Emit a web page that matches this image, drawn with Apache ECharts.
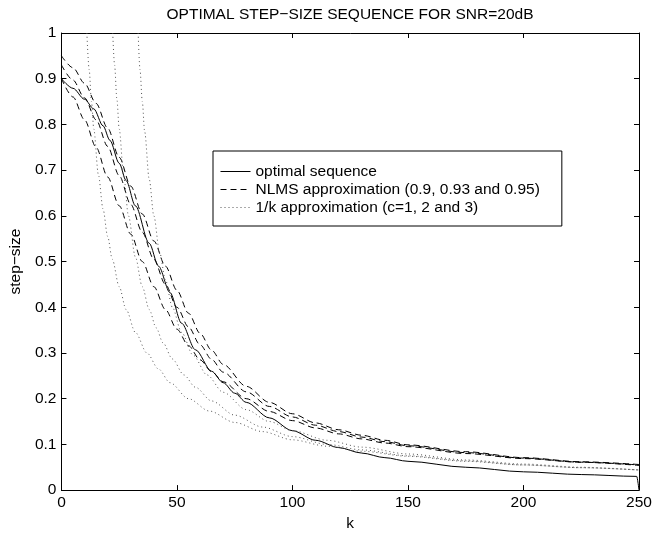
<!DOCTYPE html>
<html>
<head>
<meta charset="utf-8">
<script src="https://cdn.jsdelivr.net/npm/echarts@6/dist/echarts.min.js"></script>
<style>
html,body{margin:0;padding:0;background:#fff;}
#c{width:663px;height:537px;}
</style>
</head>
<body>
<div id="c"></div>
<script>
// ---- data ----
const titleText = 'OPTIMAL STEP\u2212SIZE SEQUENCE FOR SNR=20dB';
const xTicks = [0, 50, 100, 150, 200, 250];
const yTicks = [0, 0.1, 0.2, 0.3, 0.4, 0.5, 0.6, 0.7, 0.8, 0.9, 1];
const legendNames = ['optimal sequence', 'NLMS approximation (0.9, 0.93 and 0.95)', '1/k approximation (c=1, 2 and 3)'];

// optimal sequence (solid)
const kOpt = [0, 5, 10, 14, 18, 21, 25, 28, 32, 38, 42, 47, 52, 58, 65, 70, 75, 80, 90, 100, 110, 120, 130, 140, 150, 175, 200, 225, 249, 250];
const yOpt = [0.9, 0.879, 0.855, 0.834, 0.797, 0.765, 0.715, 0.677, 0.622, 0.54, 0.49, 0.432, 0.365, 0.307, 0.26, 0.235, 0.212, 0.192, 0.158, 0.13, 0.109, 0.093, 0.081, 0.071, 0.063, 0.05, 0.04, 0.034, 0.03, 0.0];

// NLMS approximations (dashed)
const kNlms = [0, 5, 10, 15, 20, 25, 30, 35, 40, 45, 50, 55, 60, 65, 70, 80, 90, 100, 110, 120, 130, 140, 150, 175, 200, 225, 250];
const yNlms90 = [0.9, 0.86, 0.81, 0.75, 0.685, 0.622, 0.56, 0.5, 0.445, 0.395, 0.352, 0.316, 0.285, 0.259, 0.237, 0.2, 0.172, 0.152, 0.136, 0.123, 0.112, 0.103, 0.095, 0.08, 0.069, 0.061, 0.054];
const yNlms93 = [0.93, 0.897, 0.858, 0.81, 0.752, 0.688, 0.625, 0.564, 0.505, 0.45, 0.4, 0.357, 0.318, 0.286, 0.258, 0.215, 0.183, 0.16, 0.142, 0.128, 0.116, 0.106, 0.097, 0.082, 0.07, 0.061, 0.055];
const yNlms95 = [0.95, 0.924, 0.89, 0.846, 0.792, 0.728, 0.665, 0.604, 0.545, 0.49, 0.437, 0.387, 0.343, 0.306, 0.275, 0.227, 0.192, 0.167, 0.147, 0.132, 0.12, 0.109, 0.099, 0.084, 0.071, 0.062, 0.056];

// 1/k approximations (dotted)
const kInv1 = [11, 12, 13, 14, 16, 18, 20, 22, 25, 28, 32, 37, 42, 47, 55, 64, 75, 87, 100, 115, 130, 150, 175, 200, 225, 250];
const yInv1 = [1.0, 0.92, 0.85, 0.79, 0.69, 0.615, 0.555, 0.505, 0.445, 0.395, 0.345, 0.3, 0.265, 0.235, 0.2, 0.173, 0.148, 0.128, 0.11, 0.096, 0.085, 0.074, 0.063, 0.055, 0.049, 0.044];
const kInv2 = [22.2, 23, 24, 25, 27, 29, 32, 35, 38, 41, 44, 48, 53, 58, 65, 75, 87, 100, 115, 130, 150, 175, 200, 225, 250];
const yInv2 = [1.0, 0.93, 0.855, 0.79, 0.685, 0.6, 0.51, 0.445, 0.395, 0.355, 0.322, 0.287, 0.252, 0.225, 0.195, 0.164, 0.138, 0.117, 0.1, 0.088, 0.075, 0.064, 0.055, 0.049, 0.044];
const kInv3 = [33.2, 34, 35, 36, 38, 40, 42.5, 45, 48, 52, 57, 63, 70, 80, 90, 100, 115, 130, 150, 175, 200, 225, 250];
const yInv3 = [1.0, 0.92, 0.85, 0.785, 0.68, 0.6, 0.52, 0.46, 0.4, 0.345, 0.295, 0.252, 0.214, 0.176, 0.15, 0.13, 0.109, 0.094, 0.079, 0.066, 0.057, 0.05, 0.044];

// ---- build chart ----
function zip(ks, vs) { return ks.map((k, i) => [k, vs[i]]); }
const FONT = 'Liberation Sans, Arial, Helvetica, sans-serif';
const FS = 15.5;

function lineSeries(name, ks, vs, style) {
  return {
    name: name, type: 'line', data: zip(ks, vs),
    symbol: 'none', showSymbol: false, smooth: 0.3, smoothMonotone: 'x',
    lineStyle: style, itemStyle: { color: style.color },
    emphasis: { disabled: true }, animation: false, z: 3
  };
}
const solid = { color: '#000', width: 1, type: 'solid' };
const dashed = { color: '#000', width: 1, type: [6, 4] };
const dotted = { color: '#555', width: 1, type: [1, 3] };

const chart = echarts.init(document.getElementById('c'), null, { renderer: 'canvas' });
const axisCommon = {
  type: 'value', splitLine: { show: false },
  axisLine: { show: true, onZero: false, lineStyle: { color: '#000', width: 1 } },
  axisTick: { show: true, inside: true, length: 5, lineStyle: { color: '#000', width: 1 } }
};
chart.setOption({
  animation: false,
  backgroundColor: '#fff',
  grid: { left: 49, top: 33, right: 24, bottom: 40, containLabel: false },
  graphic: [{
    type: 'text', x: 350, y: 15,
    style: { text: titleText, font: FS + 'px ' + FONT, fill: '#000', textAlign: 'center', textVerticalAlign: 'middle' }
  }],
  legend: {
    data: legendNames, orient: 'vertical', left: 213, top: 151,
    padding: [12, 22, 10, 7], itemGap: 1, itemWidth: 30, itemHeight: 14,
    itemStyle: { opacity: 0 },
    lineStyle: { width: 1 },
    borderColor: '#000', borderWidth: 1, backgroundColor: '#fff',
    textStyle: { fontFamily: FONT, fontSize: FS, color: '#000', lineHeight: 17 },
    selectedMode: false
  },
  xAxis: [
    Object.assign({}, axisCommon, {
      min: xTicks[0], max: xTicks[xTicks.length - 1], interval: 50, position: 'bottom',
      name: 'k', nameLocation: 'middle', nameGap: 18,
      nameTextStyle: { fontFamily: FONT, fontSize: FS, color: '#000' },
      axisLabel: { margin: 5, fontFamily: FONT, fontSize: FS, color: '#000' }
    }),
    Object.assign({}, axisCommon, {
      min: xTicks[0], max: xTicks[xTicks.length - 1], interval: 50, position: 'top',
      axisLabel: { show: false }
    })
  ],
  yAxis: [
    Object.assign({}, axisCommon, {
      min: yTicks[0], max: yTicks[yTicks.length - 1], interval: 0.1, position: 'left',
      name: 'step\u2212size', nameLocation: 'middle', nameGap: 30, nameRotate: 90,
      nameTextStyle: { fontFamily: FONT, fontSize: FS, color: '#000' },
      axisLabel: { margin: 5, fontFamily: FONT, fontSize: FS, color: '#000' }
    }),
    Object.assign({}, axisCommon, {
      min: yTicks[0], max: yTicks[yTicks.length - 1], interval: 0.1, position: 'right',
      axisLabel: { show: false }
    })
  ],
  series: [
    lineSeries(legendNames[0], kOpt, yOpt, solid),
    lineSeries(legendNames[1], kNlms, yNlms90, dashed),
    lineSeries(legendNames[1], kNlms, yNlms93, dashed),
    lineSeries(legendNames[1], kNlms, yNlms95, dashed),
    lineSeries(legendNames[2], kInv1, yInv1, dotted),
    lineSeries(legendNames[2], kInv2, yInv2, dotted),
    lineSeries(legendNames[2], kInv3, yInv3, dotted)
  ]
});
</script>
</body>
</html>
